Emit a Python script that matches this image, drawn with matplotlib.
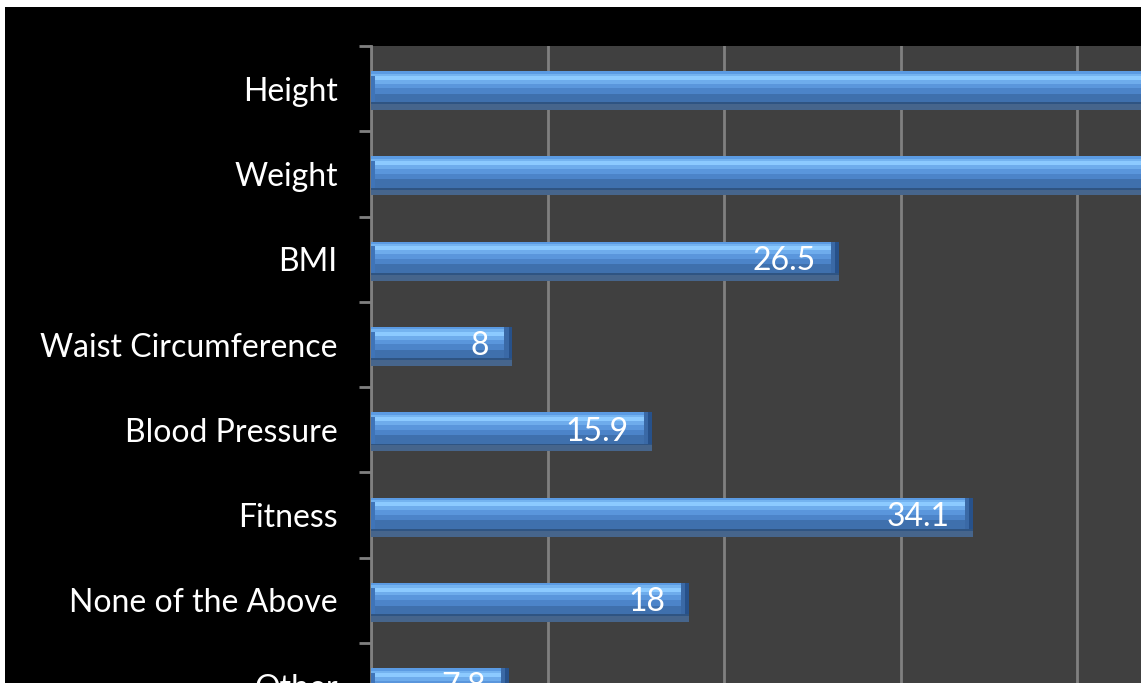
import matplotlib.pyplot as plt
from matplotlib.patches import Rectangle
from matplotlib.ticker import FixedLocator, MultipleLocator

# ==================== DATA ====================
categories = ["Height", "Weight", "BMI", "Waist Circumference", "Blood Pressure",
              "Fitness", "None of the Above", "Other"]
values = [77.3, 72.7, 26.5, 8, 15.9, 34.1, 18, 7.8]
value_labels = ["77.3", "72.7", "26.5", "8", "15.9", "34.1", "18", "7.8"]

# bar stripes, top to bottom: (start, end) as fraction of bar thickness, colour
stripes = [
    (0.00, 0.06, "#5b9be3"),
    (0.06, 0.12, "#74b3f0"),
    (0.12, 0.22, "#8ccaff"),
    (0.22, 0.32, "#6eacec"),
    (0.32, 0.44, "#5a96dc"),
    (0.44, 0.58, "#4c84c9"),
    (0.58, 0.80, "#3f70ad"),
    (0.80, 0.85, "#2f5482"),
    (0.85, 1.00, "#46658c"),
]
BAR_TOP = -0.205   # relative to category centre (axis inverted)
BAR_THICK = 0.457

FONT = ["Lato", "DejaVu Sans"]
plt.rcParams["font.family"] = FONT

W, H = 1141, 683
fig = plt.figure(figsize=(W / 100, H / 100), dpi=100, facecolor="white")
# black chart background with thin white border top/left
fig.patches.append(Rectangle((5 / W, 0), 1, 1 - 7 / H, transform=fig.transFigure,
                             facecolor="black", edgecolor="none", zorder=-10))

px_unit_y = 85.3
px_unit_x = 17.65
xmax = 80
ax_h = px_unit_y * len(categories)
ax_w = px_unit_x * xmax
top_px = 46
left_px = 371
ax = fig.add_axes([left_px / W, 1 - (top_px + ax_h) / H, ax_w / W, ax_h / H])
ax.set_facecolor("#404040")
ax.set_xlim(0, xmax)
ax.set_ylim(len(categories) - 0.5, -0.5)

for i, v in enumerate(values):
    for s0, s1, col in stripes:
        ax.barh(i + BAR_TOP + s0 * BAR_THICK, v, height=(s1 - s0) * BAR_THICK,
                align="edge", color=col, linewidth=0, zorder=3)
    # bevelled ends
    face_h = 0.80 * BAR_THICK
    ax.barh(i + BAR_TOP, 0.45, left=v - 0.45, height=face_h, align="edge",
            color="#3a69a6", linewidth=0, zorder=4)
    ax.barh(i + BAR_TOP, 0.2, left=v - 0.2, height=face_h, align="edge",
            color="#27518a", linewidth=0, zorder=4)
    ax.barh(i + BAR_TOP + 0.12 * BAR_THICK, 0.25, height=0.68 * BAR_THICK,
            align="edge", color="#3f74b8", linewidth=0, zorder=4)
    ax.annotate(value_labels[i], xy=(v, i + 0.02), xytext=(-23, 0),
                textcoords="offset pixels", ha="right", va="center",
                color="white", fontsize=23, zorder=5)

ax.xaxis.set_major_locator(MultipleLocator(10))
ax.grid(axis="x", color="#808080", linewidth=2, zorder=1)
ax.tick_params(axis="x", which="both", length=0, labelbottom=False)

ax.yaxis.set_major_locator(FixedLocator(range(len(categories))))
ax.set_yticklabels(categories)
ax.yaxis.set_minor_locator(FixedLocator([i - 0.5 for i in range(len(categories) + 1)]))
ax.tick_params(axis="y", which="major", length=0, pad=24, labelsize=23,
               labelcolor="white")
ax.tick_params(axis="y", which="minor", length=9, width=2, color="#808080")

for side in ["top", "right", "bottom"]:
    ax.spines[side].set_visible(False)
ax.spines["left"].set_color("#808080")
ax.spines["left"].set_linewidth(2)
ax.set_axisbelow(True)

fig.savefig("out.png", dpi=100, facecolor=fig.get_facecolor())
